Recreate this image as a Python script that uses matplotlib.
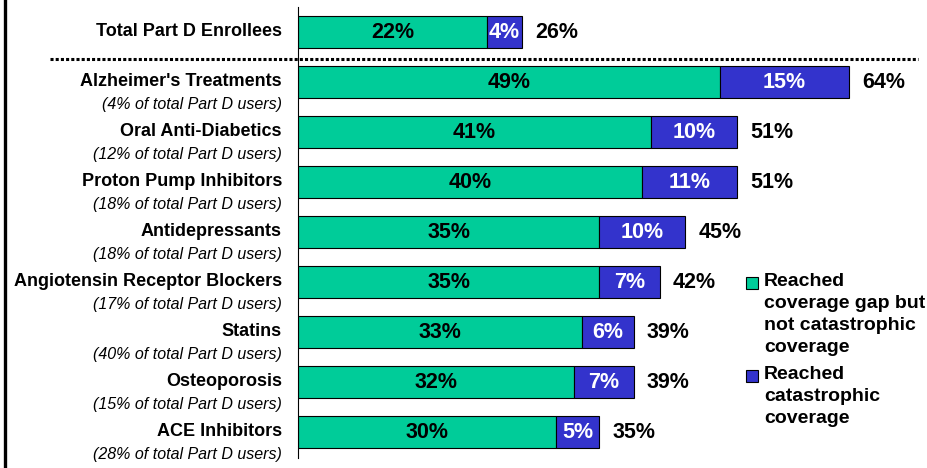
import matplotlib.pyplot as plt
from matplotlib.lines import Line2D
from matplotlib.patches import Rectangle
from matplotlib.transforms import blended_transform_factory

plt.rcParams['font.family'] = ['Liberation Sans', 'DejaVu Sans']

# drug classes (first row is the overall reference group)
categories = ['Total Part D Enrollees', "Alzheimer's Treatments", 'Oral Anti-Diabetics',
              'Proton Pump Inhibitors', 'Antidepressants', 'Angiotensin Receptor Blockers',
              'Statins', 'Osteoporosis', 'ACE Inhibitors']
subtitles = ['', '(4% of total Part D users)', '(12% of total Part D users)',
             '(18% of total Part D users)', '(18% of total Part D users)',
             '(17% of total Part D users)', '(40% of total Part D users)',
             '(15% of total Part D users)', '(28% of total Part D users)']
gap_only = [22, 49, 41, 40, 35, 35, 33, 32, 30]
catastrophic = [4, 15, 10, 11, 10, 7, 6, 7, 5]
totals = [26, 64, 51, 51, 45, 42, 39, 39, 35]

green = '#00CC99'
blue = '#3333CC'

W, H = 928, 468
fig = plt.figure(figsize=(W / 100, H / 100), dpi=100)
ax = fig.add_axes([298 / W, 1 - 458 / H, 630 / W, 451 / H])

y = list(range(len(categories)))
ax.barh(y, gap_only, height=0.64, color=green, edgecolor='black', linewidth=0.8)
ax.barh(y, catastrophic, left=gap_only, height=0.64, color=blue, edgecolor='black', linewidth=0.8)

ax.set_xlim(0, 630 / 8.61)
ax.set_ylim(8.52, -0.5)

for i in y:
    ax.text(gap_only[i] / 2, i, f'{gap_only[i]}%', ha='center', va='center',
            fontsize=15.5, fontweight='bold', color='black')
    ax.text(gap_only[i] + catastrophic[i] / 2, i, f'{catastrophic[i]}%', ha='center',
            va='center', fontsize=15.5, fontweight='bold', color='white')
    ax.annotate(f'{totals[i]}%', (gap_only[i] + catastrophic[i], i), xytext=(13, 0),
                textcoords='offset pixels', ha='left', va='center',
                fontsize=15.5, fontweight='bold')
    # category names and share of users, left of the axis
    ax.annotate(categories[i], (0, i), xytext=(-16, 0), textcoords='offset pixels',
                ha='right', va='center', fontsize=13, fontweight='bold',
                annotation_clip=False)
    if subtitles[i]:
        ax.annotate(subtitles[i], (0, i), xytext=(-16, -22), textcoords='offset pixels',
                    ha='right', va='center', fontsize=11.5, fontstyle='italic',
                    annotation_clip=False)

for s in ['top', 'right', 'bottom']:
    ax.spines[s].set_visible(False)
ax.spines['left'].set_linewidth(0.8)
ax.set_xticks([])
ax.set_yticks([])

# dotted separator under the total row
trans = blended_transform_factory(fig.transFigure, ax.transData)
fig.add_artist(Line2D([50 / W, 918 / W], [0.54, 0.54], transform=trans, color='black',
                      linewidth=2.2, linestyle=(0, (1, 0.7)), clip_on=False))

# frame line on the left edge
fig.add_artist(Line2D([5 / W, 5 / W], [0, 1], transform=fig.transFigure,
                      color='black', linewidth=2.4))

# legend
legend_items = [(green, 'Reached\ncoverage gap but\nnot catastrophic\ncoverage', 277),
                (blue, 'Reached\ncatastrophic\ncoverage', 370)]
for color, label, top in legend_items:
    fig.add_artist(Rectangle((746 / W, 1 - (top + 12) / H), 12 / W, 12 / H,
                             transform=fig.transFigure, facecolor=color,
                             edgecolor='black', linewidth=0.8))
    fig.text(764 / W, 1 - (top - 4) / H, label, ha='left', va='top', fontsize=14,
             fontweight='bold', linespacing=1.38)

fig.savefig('out.png', dpi=100)
